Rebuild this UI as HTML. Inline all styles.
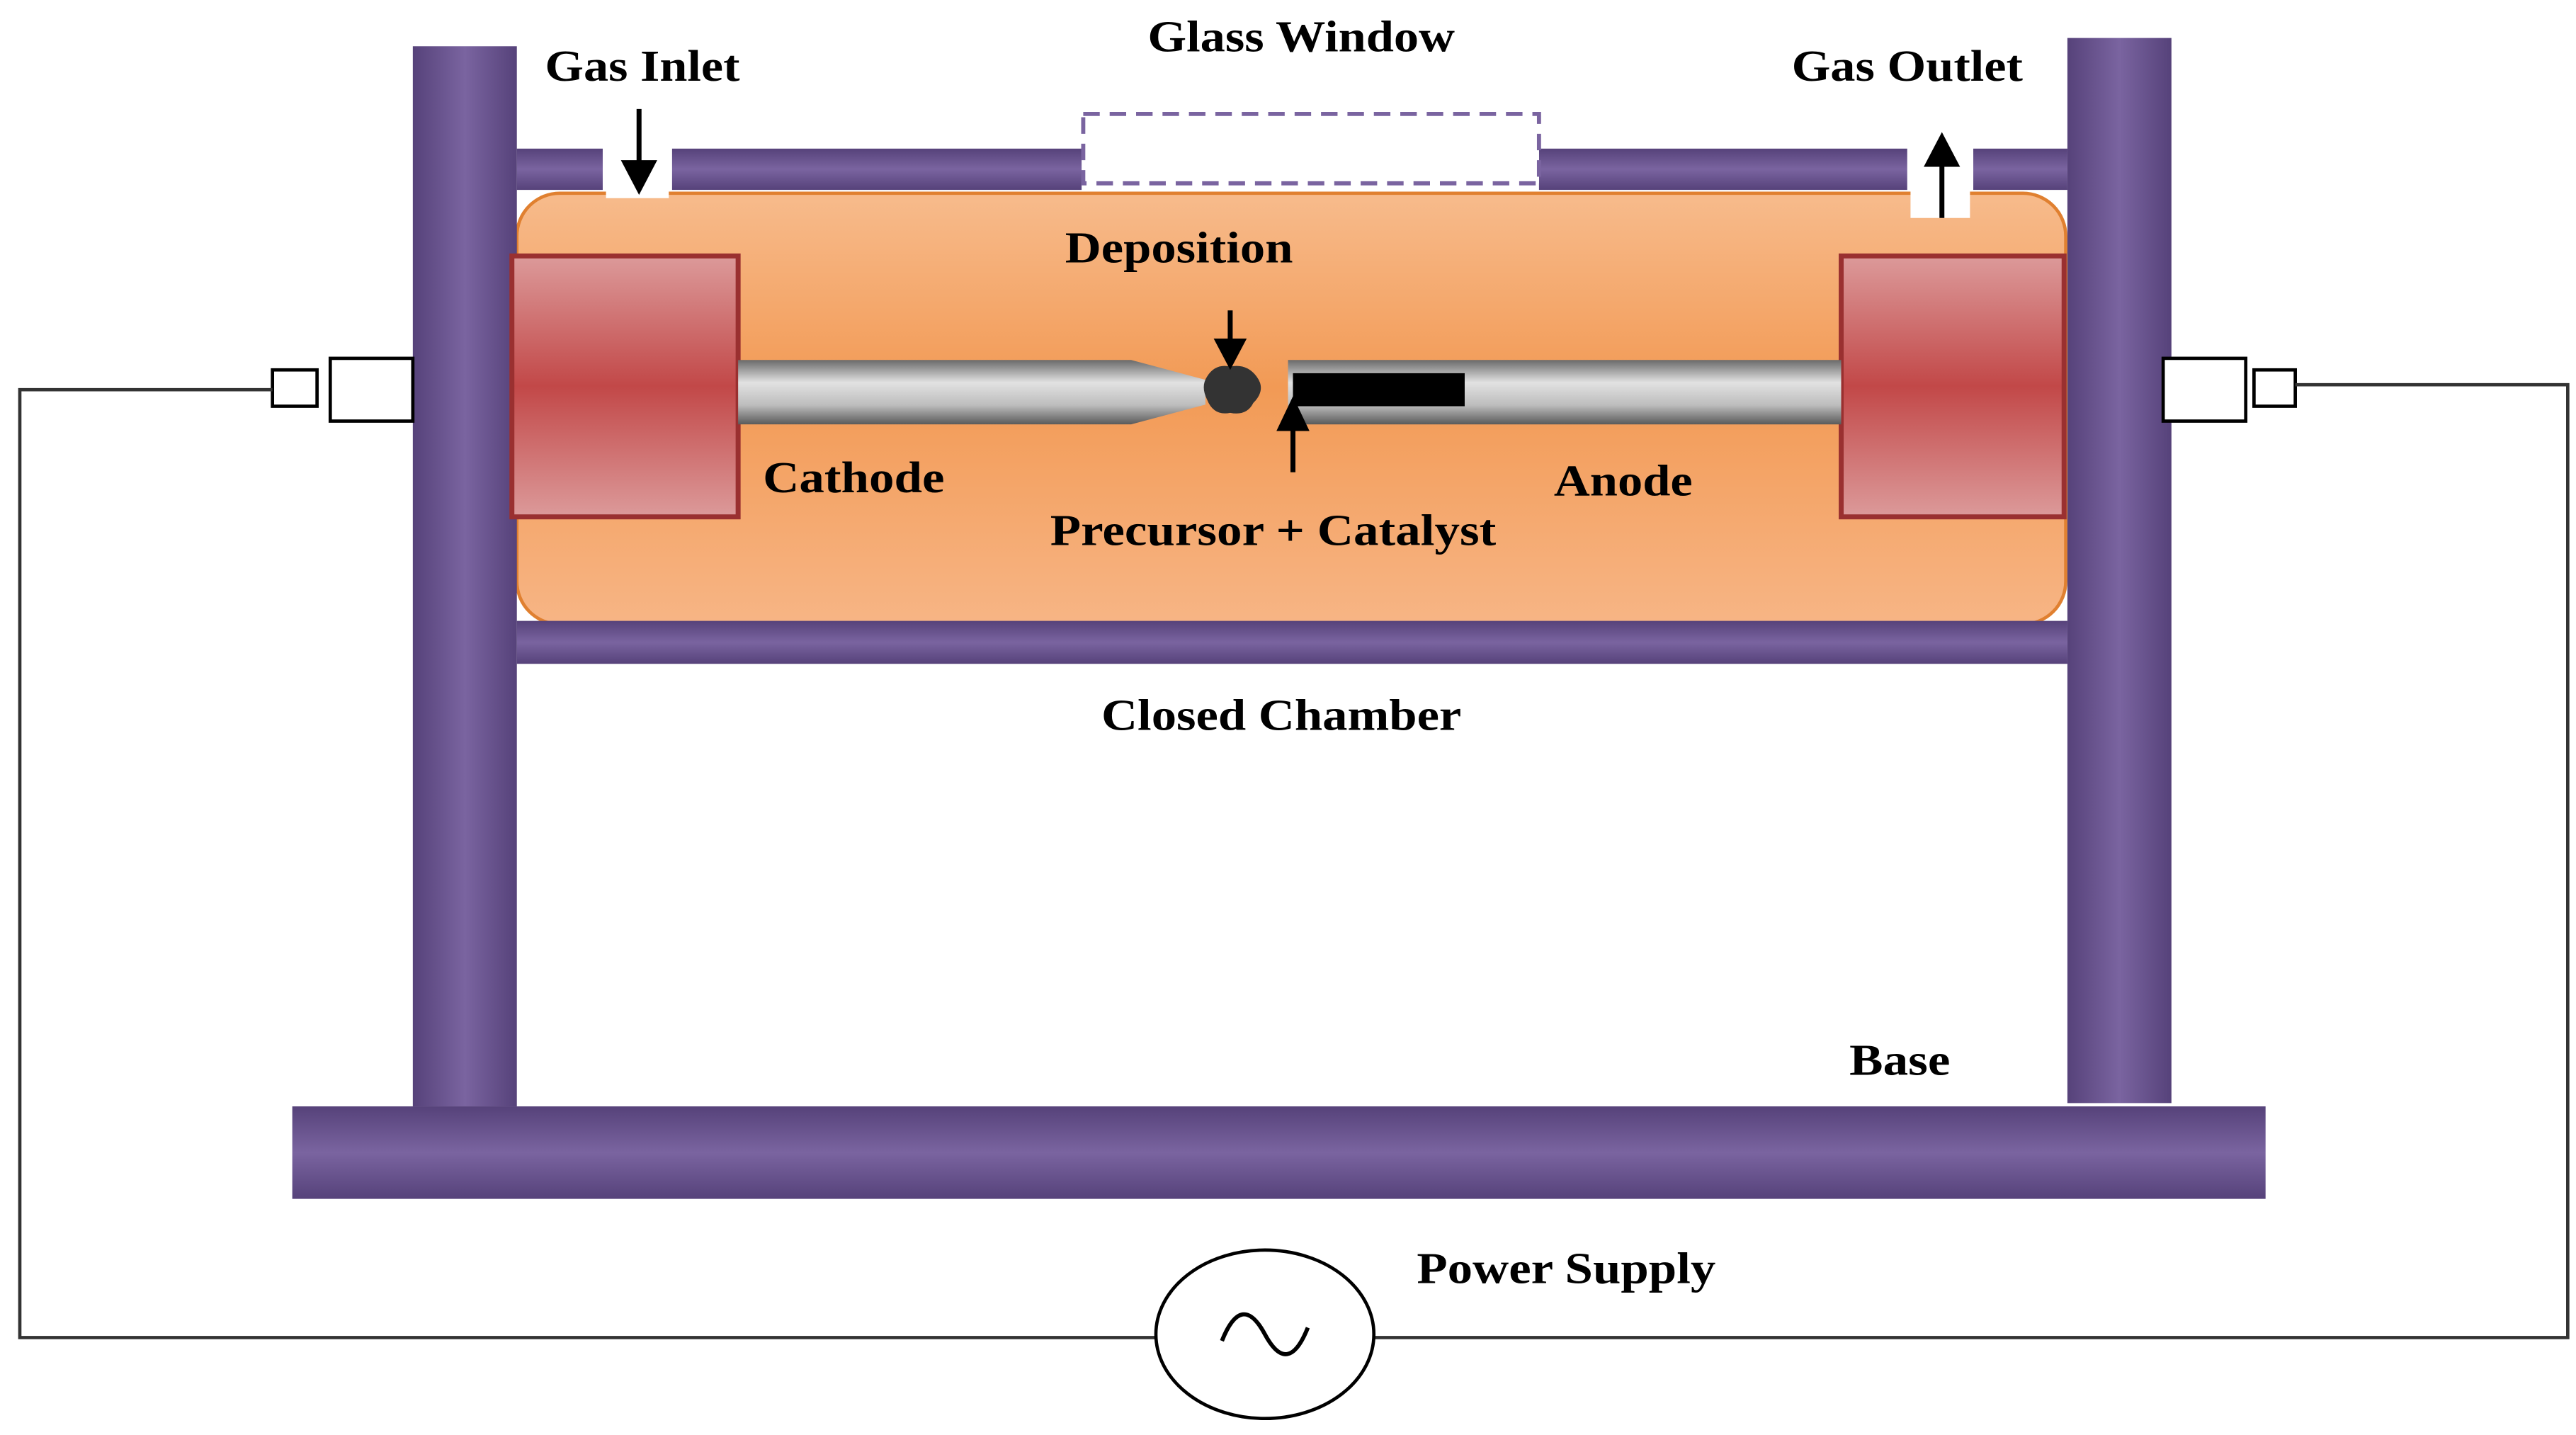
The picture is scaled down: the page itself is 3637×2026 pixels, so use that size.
<!DOCTYPE html>
<html><head><meta charset="utf-8"><style>html,body{margin:0;padding:0;background:#fff}svg{display:block}</style></head>
<body>
<svg width="3637" height="2026" viewBox="0 0 1560 869" xmlns="http://www.w3.org/2000/svg" preserveAspectRatio="none">
<defs>
<linearGradient id="pv" x1="0" x2="1" y1="0" y2="0"><stop offset="0" stop-color="#56427a"/><stop offset="0.5" stop-color="#7a64a0"/><stop offset="1" stop-color="#56427a"/></linearGradient>
<linearGradient id="ph" x1="0" x2="0" y1="0" y2="1"><stop offset="0" stop-color="#56427a"/><stop offset="0.5" stop-color="#7a64a0"/><stop offset="1" stop-color="#56427a"/></linearGradient>
<linearGradient id="or" x1="0" x2="0" y1="0" y2="1"><stop offset="0" stop-color="#f7bb8c"/><stop offset="0.45" stop-color="#f29a55"/><stop offset="1" stop-color="#f7b585"/></linearGradient>
<linearGradient id="rd" x1="0" x2="0" y1="0" y2="1"><stop offset="0" stop-color="#dc9a9a"/><stop offset="0.5" stop-color="#c24848"/><stop offset="1" stop-color="#dc9a9a"/></linearGradient>
<linearGradient id="gr" x1="0" x2="0" y1="0" y2="1"><stop offset="0" stop-color="#6a6a6a"/><stop offset="0.35" stop-color="#e2e2e2"/><stop offset="0.7" stop-color="#bdbdbd"/><stop offset="1" stop-color="#5a5a5a"/></linearGradient>
</defs>
<!-- top bar -->
<rect x="313" y="90" width="52" height="25" fill="url(#ph)"/>
<rect x="407" y="90" width="248" height="25" fill="url(#ph)"/>
<rect x="932" y="90" width="223" height="25" fill="url(#ph)"/>
<rect x="1195" y="90" width="57" height="25" fill="url(#ph)"/>
<rect x="656" y="69" width="276" height="42" fill="#fff" stroke="#7a64a0" stroke-width="2.5" stroke-dasharray="10,6"/>
<!-- chamber -->
<rect x="313" y="117" width="938" height="261" rx="26" fill="url(#or)" stroke="#e08030" stroke-width="2"/>
<rect x="367" y="112" width="38" height="8" fill="#fff"/>
<rect x="1157" y="112" width="36" height="20" fill="#fff"/>
<rect x="313" y="376" width="939" height="26" fill="url(#ph)"/>
<!-- pillars -->
<rect x="250" y="28" width="63" height="642" fill="url(#pv)"/>
<rect x="1252" y="23" width="63" height="645" fill="url(#pv)"/>
<rect x="177" y="670" width="1195" height="56" fill="url(#ph)"/>
<!-- red blocks -->
<rect x="310" y="155" width="137" height="158" fill="url(#rd)" stroke="#9a3030" stroke-width="3"/>
<rect x="1115" y="155" width="135" height="158" fill="url(#rd)" stroke="#9a3030" stroke-width="3"/>
<!-- rods -->
<polygon points="447,218 685,218 730,230 730,245 685,257 447,257" fill="url(#gr)"/>
<rect x="780" y="218" width="335" height="39" fill="url(#gr)"/>
<rect x="783" y="226" width="104" height="20" fill="#000"/>
<path d="M731,228 q5,-8 14,-6 q10,-2 16,6 q6,8 -2,16 q-4,8 -14,6 q-10,2 -14,-8 q-4,-8 0,-14z" fill="#333"/>
<!-- arrows -->
<line x1="745" y1="188" x2="745" y2="212" stroke="#000" stroke-width="3"/>
<polygon points="735,205 755,205 745,224" fill="#000"/>
<line x1="783" y1="286" x2="783" y2="256" stroke="#000" stroke-width="3"/>
<polygon points="773,261 793,261 783,240" fill="#000"/>
<line x1="387" y1="66" x2="387" y2="105" stroke="#000" stroke-width="3"/>
<polygon points="376,97 398,97 387,118" fill="#000"/>
<line x1="1176" y1="132" x2="1176" y2="95" stroke="#000" stroke-width="3"/>
<polygon points="1165,101 1187,101 1176,80" fill="#000"/>
<!-- connectors -->
<rect x="165" y="224" width="27" height="22" fill="#fff" stroke="#000" stroke-width="2"/>
<rect x="200" y="217" width="50" height="38" fill="#fff" stroke="#000" stroke-width="2"/>
<rect x="1310" y="217" width="50" height="38" fill="#fff" stroke="#000" stroke-width="2"/>
<rect x="1365" y="224" width="25" height="22" fill="#fff" stroke="#000" stroke-width="2"/>
<polyline points="165,236 12,236 12,810 700,810" fill="none" stroke="#333" stroke-width="2"/>
<polyline points="1390,233 1555,233 1555,810 832,810" fill="none" stroke="#333" stroke-width="2"/>
<ellipse cx="766" cy="808" rx="66" ry="51" fill="#fff" stroke="#000" stroke-width="2"/>
<path d="M740,812 q12,-30 26,-4 q14,26 26,-4" fill="none" stroke="#000" stroke-width="2.5"/>
<!-- labels -->
<g font-family="Liberation Serif, serif" font-weight="bold" font-size="27" fill="#000" lengthAdjust="spacingAndGlyphs">
<text x="330" y="49" textLength="118" lengthAdjust="spacingAndGlyphs">Gas Inlet</text>
<text x="695" y="31" textLength="186" lengthAdjust="spacingAndGlyphs">Glass Window</text>
<text x="1085" y="49" textLength="140" lengthAdjust="spacingAndGlyphs">Gas Outlet</text>
<text x="645" y="159" textLength="138" lengthAdjust="spacingAndGlyphs">Deposition</text>
<text x="462" y="298" textLength="110" lengthAdjust="spacingAndGlyphs">Cathode</text>
<text x="941" y="300" textLength="84" lengthAdjust="spacingAndGlyphs">Anode</text>
<text x="636" y="330" textLength="270" lengthAdjust="spacingAndGlyphs">Precursor + Catalyst</text>
<text x="667" y="442" textLength="218" lengthAdjust="spacingAndGlyphs">Closed Chamber</text>
<text x="1120" y="651" textLength="61" lengthAdjust="spacingAndGlyphs">Base</text>
<text x="858" y="777" textLength="181" lengthAdjust="spacingAndGlyphs">Power Supply</text>
</g>
</svg>
</body></html>
